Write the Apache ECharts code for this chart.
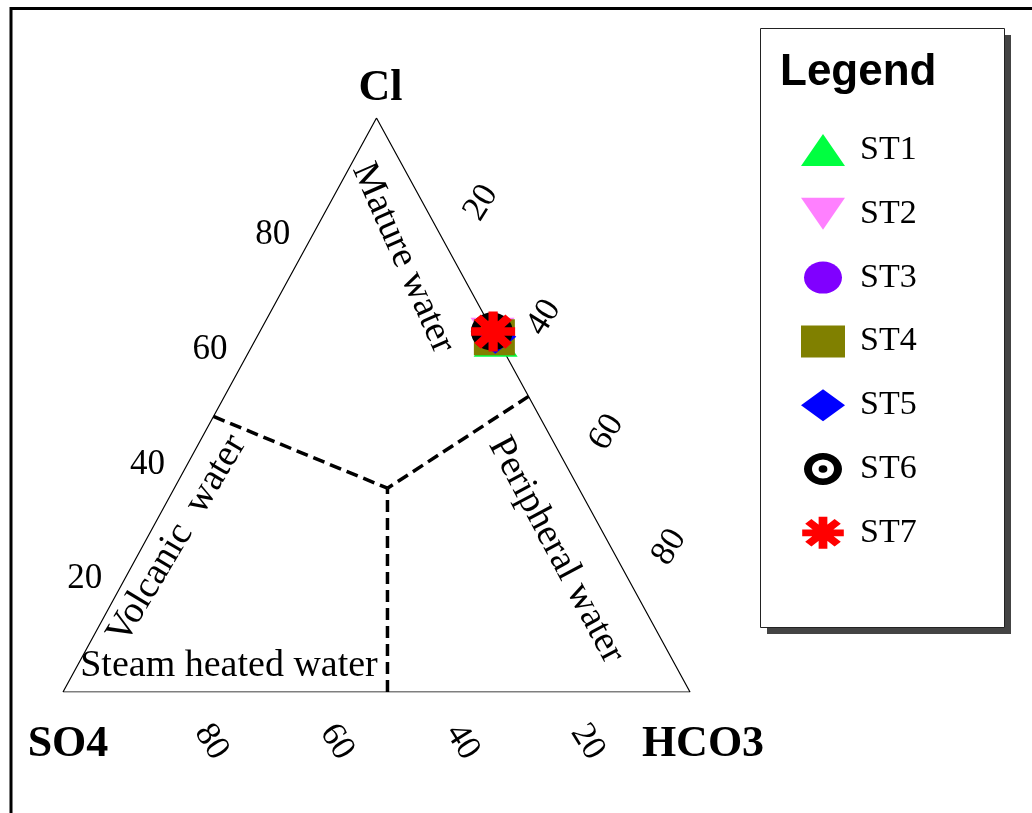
<!DOCTYPE html>
<html>
<head>
<meta charset="utf-8">
<title>Cl-SO4-HCO3 ternary diagram</title>
<script src="https://cdn.jsdelivr.net/npm/echarts@6/dist/echarts.min.js"></script>
<style>
  html, body { margin: 0; padding: 0; background: #fff; }
  #chart { width: 1032px; height: 813px; }
</style>
</head>
<body>
<div id="chart"></div>
<script>
// Station compositions, relative % of Cl, SO4 and HCO3
const stations   = ['ST1', 'ST2', 'ST3', 'ST4', 'ST5', 'ST6', 'ST7'];
const clValues   = [61.2, 62.4, 62.6, 61.8, 61.9, 62.8, 62.8];
const so4Values  = [0.4, 0.3, 0.2, 0.3, 0.1, 0.2, 0.0];
const hco3Values = [38.4, 37.3, 37.2, 37.9, 38.0, 37.0, 37.2];

// Axis tick values (%)
const tickValues = [20, 40, 60, 80];

// Corner components
const cornerNames = ['Cl', 'SO4', 'HCO3'];

// Field boundaries as [Cl, SO4, HCO3]
const boundaryCentre = [35.5, 30.5, 34.0];
const boundaryEnds   = [[48.0, 52.0, 0.0], [51.5, 0.0, 48.5], [0.0, 48.25, 51.75]];

// Ternary composition -> plane coordinates (0..100 on both axes)
function toXY(cl, so4, hco3) {
  const t = cl + so4 + hco3;
  const c = cl / t * 100, h = hco3 / t * 100;
  return [h + c / 2, c];
}

const SERIF = '"Liberation Serif", "Times New Roman", serif';

// Marker shapes (path bounding boxes set the legend icon proportions)
const invTriangle = 'path://M0,0L44,0L22,32Z';
const ellipseMark = 'path://M0,16A19,16 0 1,1 38,16A19,16 0 1,1 0,16Z';
const ringMark = 'path://M0,16A19,16 0 1,1 38,16A19,16 0 1,1 0,16Z' +
                 'M8,16A11,9.4 0 1,0 30,16A11,9.4 0 1,0 8,16Z' +
                 'M14.6,16A4.4,3.8 0 1,1 23.4,16A4.4,3.8 0 1,1 14.6,16Z';
function asteriskPath() {
  const L = 10, W = 2.1, sx = 1.3;
  let d = '';
  [0, 45, 90, 135].forEach(function (a) {
    const r = a * Math.PI / 180, c = Math.cos(r), s = Math.sin(r);
    const pts = [[-L, -W], [L, -W], [L, W], [-L, W]].map(function (p) {
      return [(10 + p[0] * c - p[1] * s) * sx, 10 + p[0] * s + p[1] * c];
    });
    d += 'M' + pts.map(function (p) { return p[0].toFixed(3) + ',' + p[1].toFixed(3); }).join('L') + 'Z';
  });
  return 'path://' + d;
}
const symbols = ['triangle', invTriangle, ellipseMark, 'rect', 'diamond', ringMark, asteriskPath()];
const colors  = ['#00ff40', '#ff80ff', '#8000ff', '#808000', '#0000ff', '#000000', '#ff0000'];
const sizes   = [[44, 32], [44, 32], [40, 34], [41, 36], [42, 34], [42, 38], [44, 40]];

// Text placed next to a ternary anchor, shifted by a pixel offset and rotated
function labelSeries(points, texts, font, offsets, rotationDeg) {
  return {
    type: 'custom',
    coordinateSystem: 'cartesian2d',
    silent: true,
    animation: false,
    clip: false,
    data: points,
    renderItem: function (params, api) {
      const p = api.coord([api.value(0), api.value(1)]);
      const off = offsets[params.dataIndex];
      return {
        type: 'text',
        x: p[0] + off[0],
        y: p[1] + off[1],
        rotation: rotationDeg * Math.PI / 180,
        style: {
          text: String(texts[params.dataIndex]),
          font: font,
          fill: '#000',
          align: 'center',
          verticalAlign: 'middle'
        }
      };
    }
  };
}

const series = [];

// Triangle outline
series.push({
  type: 'line', silent: true, animation: false, symbol: 'none',
  lineStyle: { color: '#000', width: 1.2 },
  data: [toXY(0, 100, 0), toXY(0, 0, 100), toXY(100, 0, 0), toXY(0, 100, 0)]
});

// Dashed field boundaries
boundaryEnds.forEach(function (e) {
  series.push({
    type: 'line', silent: true, animation: false, symbol: 'none',
    lineStyle: { color: '#000', width: 3.5, type: [12, 6] },
    data: [toXY(e[0], e[1], e[2]), toXY(boundaryCentre[0], boundaryCentre[1], boundaryCentre[2])]
  });
});

// Tick labels on the three sides
const tickFont = '35px ' + SERIF;
series.push(labelSeries(
  tickValues.map(function (v) { return toXY(v, 100 - v, 0); }),
  tickValues, tickFont, tickValues.map(function () { return [-41, 2]; }), 0));
series.push(labelSeries(
  tickValues.map(function (v) { return toXY(100 - v, 0, v); }),
  tickValues, tickFont, tickValues.map(function () { return [42, -30]; }), 58));
series.push(labelSeries(
  tickValues.map(function (v) { return toXY(0, v, 100 - v); }),
  tickValues, tickFont, tickValues.map(function () { return [23, 50]; }), -58));

// Corner names
series.push(labelSeries(
  [toXY(100, 0, 0), toXY(0, 100, 0), toXY(0, 0, 100)],
  cornerNames, 'bold 44px ' + SERIF, [[4, -29], [5, 53], [13, 53]], 0));

// Stations
stations.forEach(function (name, i) {
  series.push({
    type: 'scatter',
    name: name,
    animation: false,
    clip: false,
    symbol: symbols[i],
    symbolSize: sizes[i],
    itemStyle: { color: colors[i], opacity: 1 },
    z: 10 + i,
    data: [toXY(clValues[i], so4Values[i], hco3Values[i])]
  });
});

const regionFont = '38px ' + SERIF;

const chart = echarts.init(document.getElementById('chart'), null, { renderer: 'canvas' });
chart.setOption({
  animation: false,
  backgroundColor: '#fff',
  grid: { left: 63, right: 342, top: 118, bottom: 121, containLabel: false },
  xAxis: { type: 'value', min: 0, max: 100, show: false },
  yAxis: { type: 'value', min: 0, max: 100, show: false },
  legend: {
    orient: 'vertical',
    left: 801,
    top: 133,
    padding: 0,
    itemWidth: 44,
    itemHeight: 32,
    itemGap: 29.8,
    selectedMode: false,
    textStyle: { fontFamily: SERIF, fontSize: 34, color: '#000', lineHeight: 32, padding: [0, 0, 0, 10] },
    data: stations.map(function (s, i) { return { name: s, icon: symbols[i] }; })
  },
  graphic: [
    { type: 'rect', silent: true, shape: { x: 11, y: 8.5, width: 1060, height: 900 },
      style: { fill: 'none', stroke: '#000', lineWidth: 3 } },
    { type: 'rect', silent: true, shape: { x: 767, y: 35, width: 244, height: 599 },
      style: { fill: '#444', stroke: 'none' } },
    { type: 'rect', silent: true, shape: { x: 760.5, y: 28.5, width: 244, height: 599 },
      style: { fill: '#fff', stroke: '#222', lineWidth: 1 } },
    { type: 'text', silent: true, x: 780, y: 73,
      style: { text: 'Legend', font: 'bold 44px "Liberation Sans", Arial, sans-serif', fill: '#000',
               align: 'left', verticalAlign: 'middle' } },
    { type: 'text', silent: true, x: 403, y: 258, rotation: -66 * Math.PI / 180,
      style: { text: 'Mature water', font: regionFont, fill: '#000', align: 'center', verticalAlign: 'middle' } },
    { type: 'text', silent: true, x: 177, y: 539, rotation: 59 * Math.PI / 180,
      style: { text: 'Volcanic  water', font: regionFont, fill: '#000', align: 'center', verticalAlign: 'middle' } },
    { type: 'text', silent: true, x: 556, y: 550, rotation: -62 * Math.PI / 180,
      style: { text: 'Peripheral water', font: regionFont, fill: '#000', align: 'center', verticalAlign: 'middle' } },
    { type: 'text', silent: true, x: 229, y: 666,
      style: { text: 'Steam heated water', font: regionFont, fill: '#000', align: 'center', verticalAlign: 'middle' } }
  ],
  series: series
});
</script>
</body>
</html>
